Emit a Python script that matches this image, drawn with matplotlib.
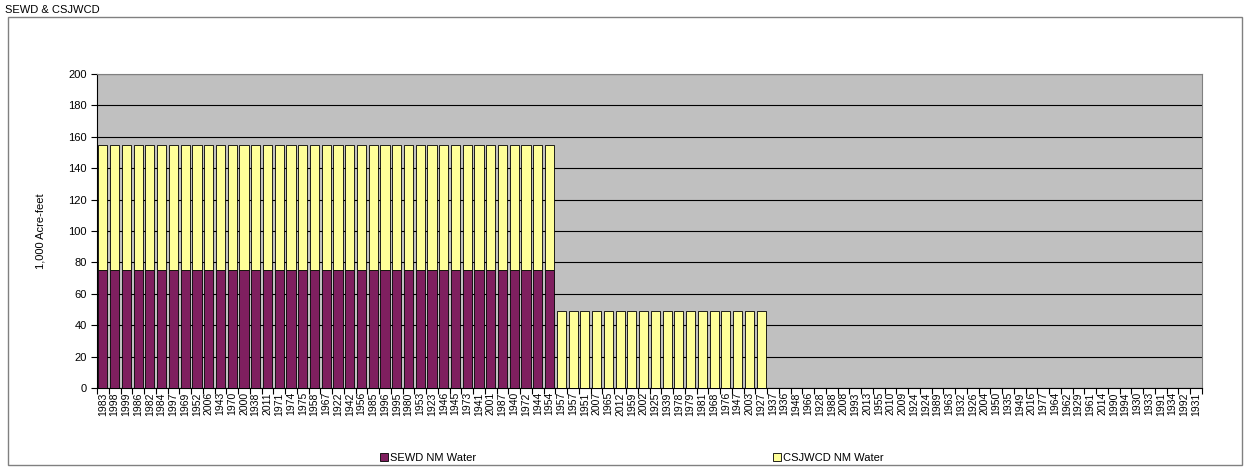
import matplotlib.pyplot as plt
import numpy as np
from matplotlib.patches import Rectangle

years = ['1983', '1998', '1999', '1986', '1982', '1984', '1997', '1969', '1952', '2006',
         '1943', '1970', '2000', '1938', '2011', '1971', '1974', '1975', '1958', '1967',
         '1922', '1942', '1956', '1985', '1996', '1995', '1980', '1953', '1923', '1946',
         '1945', '1973', '1941', '2001', '1987', '1940', '1972', '1944', '1954', '1957',
         '1957', '1951', '2007', '1965', '2012', '1959', '2002', '1925', '1939', '1978',
         '1979', '1981', '1968', '1976', '1947', '2003', '1927', '1937', '1936', '1948',
         '1966', '1928', '1988', '2008', '1993', '2013', '1955', '2010', '2009', '1924',
         '1924', '1989', '1963', '1932', '1926', '2004', '1950', '1935', '1949', '2016',
         '1977', '1964', '1962', '1929', '1961', '2014', '1990', '1994', '1930', '1933',
         '1991', '1934', '1992', '1931']

# SEWD: 75 in the first 39 years, none after
sewd = [75] * 39 + [0] * 55
# CSJWCD: 80 on top of SEWD, then 49 alone for 18 years
csjwcd = [80] * 39 + [49] * 18 + [0] * 37

plt.rcParams['font.family'] = ['Liberation Sans', 'DejaVu Sans']

fig = plt.figure(figsize=(12.49, 4.72), dpi=100)
ax = fig.add_axes([97 / 1249, 84 / 472, 1105 / 1249, 314 / 472])

x = np.arange(len(years))
ax.bar(x, sewd, width=0.78, color='#7F1F5F', edgecolor='black', linewidth=0.6,
       label='SEWD NM Water', zorder=3)
ax.bar(x, csjwcd, bottom=sewd, width=0.78, color='#FFFF99', edgecolor='black',
       linewidth=0.6, label='CSJWCD NM Water', zorder=3)

ax.set_facecolor('#C0C0C0')
ax.set_xlim(-0.5, len(years) - 0.5)
ax.set_ylim(0, 200)
ax.set_yticks(np.arange(0, 201, 20))
ax.yaxis.grid(True, color='black', linewidth=0.8, zorder=1)
ax.set_axisbelow(True)

ax.set_xticks(x)
ax.set_xticklabels(years, rotation=90, fontsize=7.5)
ax.set_xticks(np.arange(-0.5, len(years), 1), minor=True)
ax.tick_params(axis='x', which='major', length=0, pad=3)
ax.tick_params(axis='x', which='minor', length=4, width=0.8, direction='out')
ax.tick_params(axis='y', labelsize=8, length=4, width=0.8)

for s in ['top', 'right']:
    ax.spines[s].set_color('#808080')
for s in ['left', 'bottom']:
    ax.spines[s].set_color('black')

ax.set_ylabel('1,000 Acre-feet', fontsize=8, labelpad=16)

# outer chart border and title
fig.patches.append(Rectangle((8 / 1249, 7 / 472), 1234 / 1249, 448 / 472,
                             transform=fig.transFigure, fill=False,
                             edgecolor='#808080', linewidth=1))
fig.text(5 / 1249, 1 - 10 / 472, 'SEWD & CSJWCD', fontsize=8, va='center', ha='left')

fig.legend(loc='center', bbox_to_anchor=(0.506, 1 - 458 / 472), ncol=2, frameon=False,
           fontsize=8, handlelength=0.7, handleheight=0.7, handletextpad=0.2,
           columnspacing=26.7)

fig.savefig('out.png', dpi=100)
